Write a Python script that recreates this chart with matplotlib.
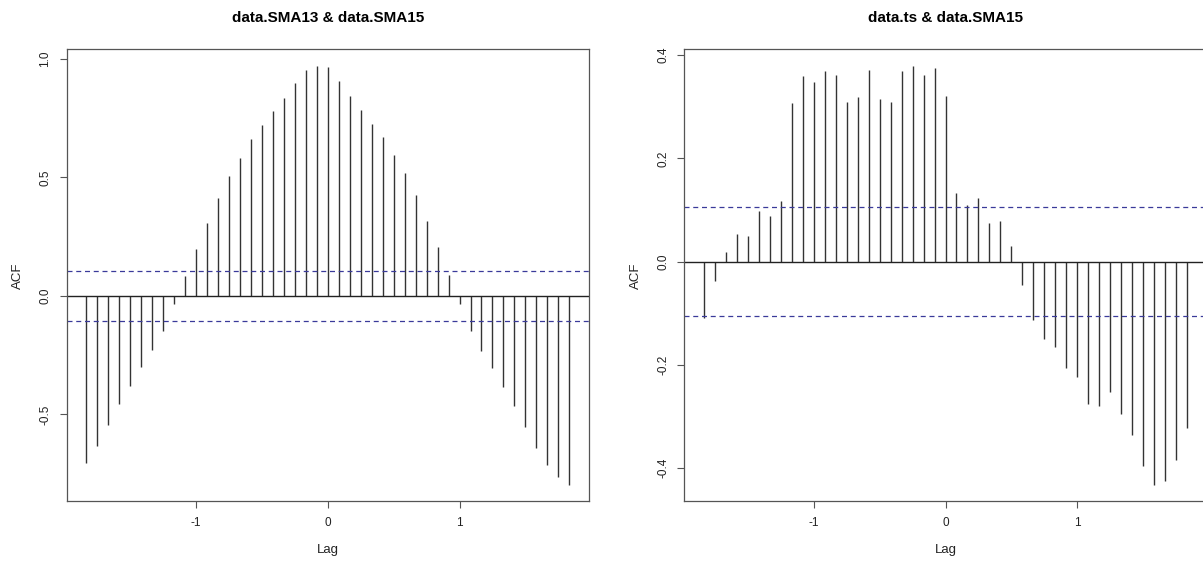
import numpy as np
import matplotlib.pyplot as plt

plt.rcParams['font.family'] = ['Liberation Sans', 'DejaVu Sans']

# lags are in years (monthly series, frequency 12), -22..22 months
lag_months = np.arange(-22, 23)
lags = lag_months / 12.0

# cross-correlations data.SMA13 vs data.SMA15
ccf_sma13 = [-0.704, -0.634, -0.544, -0.455, -0.380, -0.299, -0.227, -0.148,
             -0.032, 0.086, 0.199, 0.307, 0.413, 0.507, 0.583, 0.662, 0.721,
             0.780, 0.837, 0.900, 0.954, 0.970, 0.965, 0.907, 0.842, 0.785,
             0.727, 0.669, 0.593, 0.517, 0.425, 0.315, 0.206, 0.089, -0.032,
             -0.148, -0.231, -0.304, -0.385, -0.463, -0.555, -0.642, -0.715,
             -0.765, -0.796]

# cross-correlations data.ts vs data.SMA15
ccf_ts = [-0.109, -0.038, 0.019, 0.053, 0.050, 0.098, 0.089, 0.117, 0.307,
          0.359, 0.349, 0.370, 0.362, 0.310, 0.319, 0.371, 0.316, 0.309,
          0.370, 0.379, 0.361, 0.375, 0.320, 0.133, 0.110, 0.123, 0.074,
          0.079, 0.031, -0.045, -0.113, -0.150, -0.166, -0.207, -0.223,
          -0.275, -0.279, -0.252, -0.296, -0.335, -0.396, -0.432, -0.425,
          -0.384, -0.322]

n_obs = 348
ci = 1.96 / np.sqrt(n_obs)

titles = ['data.SMA13 & data.SMA15', 'data.ts & data.SMA15']
yticks = [[-0.5, 0.0, 0.5, 1.0], [-0.4, -0.2, 0.0, 0.2, 0.4]]
xticks = [-1, 0, 1]

W, H = 1203, 562
fig = plt.figure(figsize=(W / 100, H / 100), dpi=100)
boxes = [(66.7, 49.3, 588.7, 501.3), (684.3, 49.3, 1206.7, 501.3)]

frame_col = '#555555'
for box, vals, title, yt in zip(boxes, [ccf_sma13, ccf_ts], titles, yticks):
    x0, y0, x1, y1 = box
    ax = fig.add_axes([x0 / W, 1 - y1 / H, (x1 - x0) / W, (y1 - y0) / H])
    vals = np.array(vals)
    ax.vlines(lags, 0, vals, color='#333333', lw=1.0)
    ax.axhline(0, color='#222222', lw=1.0)
    ax.axhline(ci, color='#3a3a9a', lw=0.9, ls=(0, (4, 3)))
    ax.axhline(-ci, color='#3a3a9a', lw=0.9, ls=(0, (4, 3)))

    # R-style 4% padding of the data range
    xr = lags.max() - lags.min()
    ax.set_xlim(lags.min() - 0.04 * xr, lags.max() + 0.04 * xr)
    yr = vals.max() - vals.min()
    ax.set_ylim(vals.min() - 0.04 * yr, vals.max() + 0.04 * yr)

    ax.set_xticks(xticks)
    ax.set_xticklabels([str(t) for t in xticks])
    ax.set_yticks(yt)
    ax.set_yticklabels([f'{t:.1f}' for t in yt], rotation=90, va='center')
    ax.tick_params(direction='out', length=5, width=0.8, colors=frame_col,
                   labelcolor='#222222', labelsize=8.5, pad=6)
    for s in ax.spines.values():
        s.set_color(frame_col)
        s.set_linewidth(0.9)

    ax.set_xlabel('Lag', fontsize=9.5, color='#222222', labelpad=11)
    ax.set_ylabel('ACF', fontsize=9.5, color='#222222', labelpad=11)
    ax.set_title(title, fontsize=11, fontweight='bold', pad=19.5)

fig.savefig('out.png', dpi=100)
